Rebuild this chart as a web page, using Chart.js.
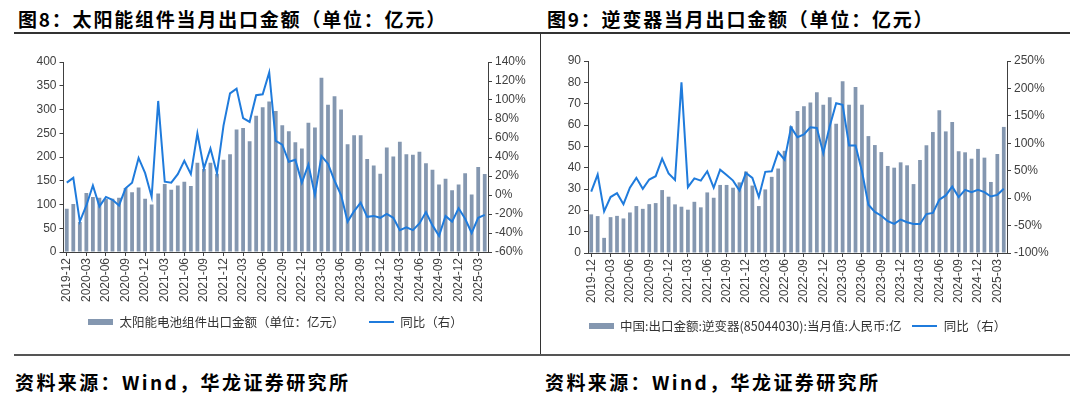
<!DOCTYPE html>
<html>
<head>
<meta charset="utf-8">
<script src="https://cdn.jsdelivr.net/npm/chart.js@4/dist/chart.umd.min.js"></script>
<style>
    body { margin: 0; background: #fff; width: 1080px; height: 397px; overflow: hidden; position: relative; font-family: "Noto Sans CJK SC", sans-serif; }
    .title { position: absolute; top: 5px; font-size: 19px; font-weight: bold; letter-spacing: 1.8px; color: #000; white-space: nowrap; }
    .source { position: absolute; top: 368px; font-size: 19px; font-weight: bold; letter-spacing: 2.4px; color: #000; white-space: nowrap; }
    .rule { position: absolute; background: #333; }
    canvas { position: absolute; }
</style>
</head>
<body>
<div class="title" style="left:18px">图8：太阳能组件当月出口金额（单位：亿元）</div>
<div class="title" style="left:547px">图9：逆变器当月出口金额（单位：亿元）</div>
<div class="rule" style="left:14px; top:32px; width:1056px; height:1.5px"></div>
<div class="rule" style="left:540px; top:33px; width:1px; height:322px"></div>
<div class="rule" style="left:14px; top:354px; width:1056px; height:2px; background:#555"></div>
<canvas id="solarChart" width="529" height="314" style="left:11px; top:36px"></canvas>
<canvas id="inverterChart" width="515" height="314" style="left:540px; top:36px"></canvas>
<div class="source" style="left:15px">资料来源：Wind，华龙证券研究所</div>
<div class="source" style="left:545px">资料来源：Wind，华龙证券研究所</div>

<script>
const months = [
    '2019-12',
    '2020-01', '2020-02', '2020-03', '2020-04', '2020-05', '2020-06', '2020-07', '2020-08', '2020-09', '2020-10', '2020-11', '2020-12',
    '2021-01', '2021-02', '2021-03', '2021-04', '2021-05', '2021-06', '2021-07', '2021-08', '2021-09', '2021-10', '2021-11', '2021-12',
    '2022-01', '2022-02', '2022-03', '2022-04', '2022-05', '2022-06', '2022-07', '2022-08', '2022-09', '2022-10', '2022-11', '2022-12',
    '2023-01', '2023-02', '2023-03', '2023-04', '2023-05', '2023-06', '2023-07', '2023-08', '2023-09', '2023-10', '2023-11', '2023-12',
    '2024-01', '2024-02', '2024-03', '2024-04', '2024-05', '2024-06', '2024-07', '2024-08', '2024-09', '2024-10', '2024-11', '2024-12',
    '2025-01', '2025-02', '2025-03', '2025-04'
];

// 太阳能电池组件出口金额（亿元）
const solarExport = [
    91, 101, 63, 124, 116, 114, 112, 112, 114, 135, 126, 136,
    112, 100, 123, 143, 131, 140, 148, 139, 188, 175, 188, 165,
    194, 206, 258, 261, 233, 287, 305, 317, 297, 267, 254, 231,
    218, 272, 262, 367, 310, 328, 300, 227, 246, 246, 196, 182,
    165, 220, 201, 232, 206, 205, 211, 187, 173, 142, 154, 130,
    142, 166, 121, 179, 164
];
// 同比（%）
const solarYoY = [
    13, 18, -28, -11, 10, -12, -2, -5, -11, 7, 13, 39,
    23, -2, 99, 14, 13, 22, 36, 22, 65, 28, 49, 23,
    73, 107, 112, 81, 77, 105, 106, 129, 57, 53, 35, 37,
    13, 32, 0, 41, 33, 15, 0, -28, -17, -8, -23, -22,
    -24, -20, -24, -37, -34, -37, -30, -18, -32, -43, -22, -28,
    -14, -25, -40, -24, -21
];

// 逆变器出口金额（亿元）
const inverterExport = [
    18.1, 17.3, 7.1, 16.8, 17.4, 16.2, 19.0, 22.0, 20.7, 22.9, 23.4, 29.5,
    26.4, 22.8, 21.7, 20.3, 24.0, 21.4, 28.4, 25.9, 31.9, 31.9, 30.6, 33.1,
    38.2, 31.6, 22.0, 29.8, 35.7, 39.6, 47.9, 59.4, 66.6, 68.8, 70.6, 75.3,
    69.5, 73.0, 60.6, 80.5, 69.5, 77.8, 69.5, 54.8, 50.6, 47.3, 40.8, 40.0,
    42.5, 41.1, 32.3, 43.6, 50.5, 56.7, 66.9, 57.0, 61.4, 47.7, 47.2, 44.2,
    48.8, 44.7, 33.3, 46.4, 59.1
];
const inverterYoY = [
    12, 43, -24, 2, 9, -11, 19, 37, 17, 34, 40, 72,
    45, 33, 211, 20, 36, 32, 49, 19, 52, 42, 32, 14,
    46, 37, 2, 48, 49, 84, 70, 129, 111, 116, 129, 128,
    82, 131, 173, 170, 96, 96, 49, -12, -25, -32, -42, -47,
    -39, -44, -47, -47, -29, -27, -3, 5, 21, 2, 15, 11,
    15, 11, 3, 6, 17
];

const barColor = '#8497b0';
const lineColor = '#1f7bdc';
const axisColor = '#404040';
const tickFont = { family: 'Liberation Sans', size: 12 };

function legendMarker(w, h, color) {
    const c = document.createElement('canvas');
    c.width = w;
    c.height = h;
    const ctx = c.getContext('2d');
    ctx.fillStyle = color;
    ctx.fillRect(0, 0, w, h);
    return c;
}

const barMarker = legendMarker(25, 6, barColor);
const lineMarker = legendMarker(25, 2, lineColor);

function buildChart(canvasId, p) {
    return new Chart(document.getElementById(canvasId), {
        data: {
            labels: months,
            datasets: [{
                type: 'bar',
                label: p.barLabel,
                data: p.bars,
                yAxisID: 'y',
                backgroundColor: barColor,
                barPercentage: 0.58,
                categoryPercentage: 1,
                order: 2
            }, {
                type: 'line',
                label: '同比（右）',
                data: p.yoy,
                yAxisID: 'y1',
                borderColor: lineColor,
                borderWidth: 2,
                pointRadius: 0,
                tension: 0,
                order: 1
            }]
        },
        options: {
            responsive: false,
            animation: false,
            devicePixelRatio: 1,
            layout: { padding: { left: 0, right: 0, top: p.top, bottom: p.bottom } },
            plugins: {
                tooltip: { enabled: false },
                legend: {
                    position: 'bottom',
                    labels: {
                        usePointStyle: true,
                        pointStyleWidth: 25,
                        boxHeight: 6,
                        padding: p.legendPad,
                        color: '#333',
                        font: { family: 'Noto Sans CJK SC', size: 12.5 },
                        sort: (a, b) => a.datasetIndex - b.datasetIndex,
                        generateLabels: (chart) => {
                            const items = Chart.defaults.plugins.legend.labels.generateLabels(chart);
                            items.forEach((it) => { it.pointStyle = it.datasetIndex === 0 ? barMarker : lineMarker; });
                            return items;
                        }
                    }
                }
            },
            scales: {
                x: {
                    type: 'category',
                    offset: true,
                    grid: {
                        offset: false,
                        drawOnChartArea: false,
                        tickLength: 4,
                        color: (ctx) => ctx.index % 3 === 0 ? axisColor : 'rgba(0,0,0,0)'
                    },
                    border: { color: axisColor },
                    ticks: {
                        autoSkip: false,
                        minRotation: 90,
                        maxRotation: 90,
                        padding: 2,
                        color: axisColor,
                        font: tickFont,
                        callback: (v, i) => i % 3 === 0 ? months[i] : ''
                    },
                    afterFit: (s) => { s.height = p.xHeight; }
                },
                y: {
                    position: 'left',
                    min: 0,
                    max: p.leftMax,
                    ticks: { stepSize: p.leftStep, color: axisColor, font: tickFont },
                    grid: { drawOnChartArea: false, tickLength: 4, color: axisColor },
                    border: { color: axisColor },
                    afterFit: (s) => { s.width = p.leftW; }
                },
                y1: {
                    position: 'right',
                    min: p.rightMin,
                    max: p.rightMax,
                    ticks: { stepSize: p.rightStep, color: axisColor, font: tickFont, callback: (v) => v + '%' },
                    grid: { drawOnChartArea: false, tickLength: 4, color: axisColor },
                    border: { color: axisColor },
                    afterFit: (s) => { s.width = p.rightW; }
                }
            }
        }
    });
}

buildChart('solarChart', {
    barLabel: '太阳能电池组件出口金额（单位：亿元）\u3000\u2002',
    bars: solarExport,
    yoy: solarYoY,
    leftMax: 400, leftStep: 50,
    rightMin: -60, rightMax: 140, rightStep: 20,
    leftW: 52.5, rightW: 52,
    top: 26, xHeight: 51.75, legendPad: 12, bottom: 11.75
});

buildChart('inverterChart', {
    barLabel: '中国:出口金额:逆变器(85044030):当月值:人民币:亿',
    bars: inverterExport,
    yoy: inverterYoY,
    leftMax: 90, leftStep: 10,
    rightMin: -100, rightMax: 250, rightStep: 50,
    leftW: 48, rightW: 48,
    top: 25, xHeight: 55.75, legendPad: 11, bottom: 7.75
});
</script>
</body>
</html>
